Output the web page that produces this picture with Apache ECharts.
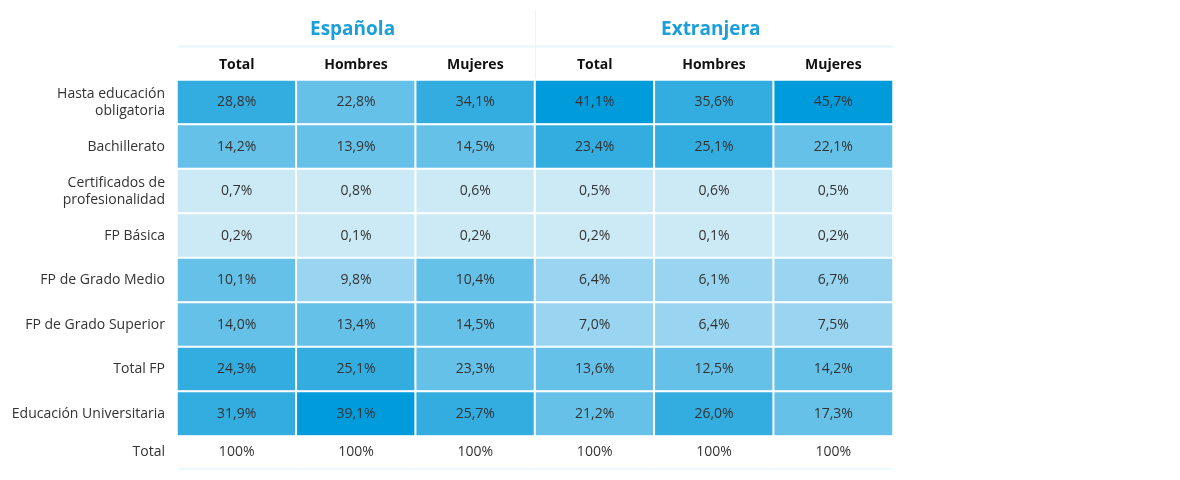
<!DOCTYPE html><html><head><meta charset="utf-8"><script src="https://cdn.jsdelivr.net/npm/echarts@6/dist/echarts.min.js"></script>
<style>html,body{margin:0;background:#fff}#c{width:1180px;height:480px}</style></head><body><div id="c"></div><script>
const columns=['Total','Hombres','Mujeres','Total','Hombres','Mujeres'];
const groups=['Española','Extranjera'];
const rows=['Hasta educación\nobligatoria','Bachillerato','Certificados de\nprofesionalidad','FP Básica','FP de Grado Medio','FP de Grado Superior','Total FP','Educación Universitaria'];
const values=[
[28.8,22.8,34.1,41.1,35.6,45.7],
[14.2,13.9,14.5,23.4,25.1,22.1],
[0.7,0.8,0.6,0.5,0.6,0.5],
[0.2,0.1,0.2,0.2,0.1,0.2],
[10.1,9.8,10.4,6.4,6.1,6.7],
[14.0,13.4,14.5,7.0,6.4,7.5],
[24.3,25.1,23.3,13.6,12.5,14.2],
[31.9,39.1,25.7,21.2,26.0,17.3]];
const totalLabel='Total';
const totals=[100,100,100,100,100,100];
const data=[];values.forEach((r,i)=>r.forEach((v,j)=>data.push([j,i,v])));
const tdata=totals.map((v,j)=>[j,0,v]);
const F='"Open Sans", sans-serif';
const cats=columns.map((c,i)=>i);
const chart=echarts.init(document.getElementById('c'));
chart.setOption({
animation:false,
grid:[{left:177,right:287,top:80,height:356},{left:177,right:287,top:436,height:32}],
xAxis:[{type:'category',gridIndex:0,position:'top',data:cats,axisLine:{show:false},axisTick:{show:false},
 axisLabel:{formatter:v=>columns[v],fontFamily:F,fontWeight:'bold',fontSize:14,color:'#111',margin:8}},
 {type:'category',gridIndex:1,data:cats,show:false}],
yAxis:[{type:'category',gridIndex:0,inverse:true,data:rows,axisLine:{show:false},axisTick:{show:false},
 axisLabel:{fontFamily:F,fontSize:14,color:'#333',margin:12,lineHeight:17}},
 {type:'category',gridIndex:1,data:[totalLabel],axisLine:{show:false},axisTick:{show:false},
 axisLabel:{fontFamily:F,fontSize:14,color:'#333',margin:12}}],
visualMap:{show:false,type:'piecewise',seriesIndex:0,dimension:2,pieces:[
 {lt:5,color:'#cceaf6'},{gte:5,lt:10,color:'#99d5f0'},{gte:10,lt:23.35,color:'#66c1e8'},{gte:23.35,lt:36,color:'#33acdf'},{gte:36,color:'#009bdb'}]},
series:[{type:'heatmap',xAxisIndex:0,yAxisIndex:0,data:data,itemStyle:{borderColor:'#fff',borderWidth:2},
 label:{show:true,fontFamily:F,fontSize:14,color:'#333',formatter:p=>p.value[2].toFixed(1).replace('.',',')+'%'}},
 {type:'heatmap',xAxisIndex:1,yAxisIndex:1,data:tdata,itemStyle:{color:'#fff'},
 label:{show:true,fontFamily:F,fontSize:14,color:'#333',formatter:p=>p.value[2]+'%'}}],
graphic:[
 {type:'text',left:310,top:20,style:{text:groups[0],font:'bold 19px '+F,fill:'#1a9fdb'}},
 {type:'text',left:661,top:20,style:{text:groups[1],font:'bold 19px '+F,fill:'#1a9fdb'}},
 {type:'line',shape:{x1:178,y1:46.5,x2:893,y2:46.5},style:{stroke:'#e6f4fb',lineWidth:2}},
 {type:'line',shape:{x1:178,y1:468.5,x2:893,y2:468.5},style:{stroke:'#e6f4fb',lineWidth:2}},
 {type:'line',shape:{x1:535.5,y1:10,x2:535.5,y2:470},style:{stroke:'#e6f4fb',lineWidth:1},z:-1}
]});
</script></body></html>
